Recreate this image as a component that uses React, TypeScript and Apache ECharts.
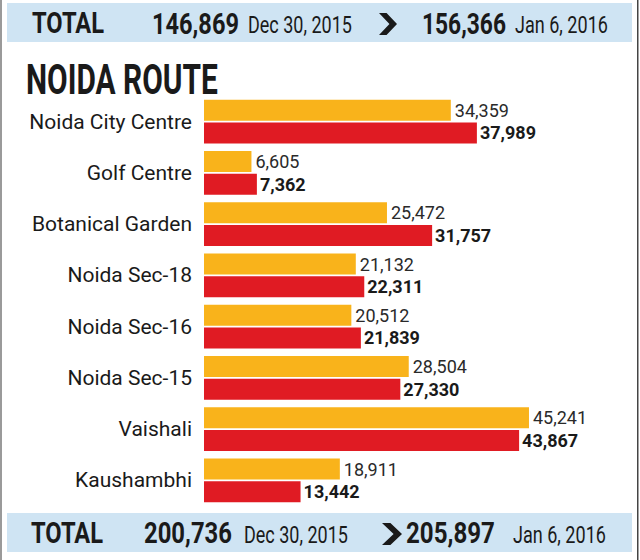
import React, { useEffect, useRef } from "react";
import * as echarts from "echarts";

// Daily ridership per station on the Noida route
const stations = [
  "Noida City Centre",
  "Golf Centre",
  "Botanical Garden",
  "Noida Sec-18",
  "Noida Sec-16",
  "Noida Sec-15",
  "Vaishali",
  "Kaushambhi",
];
const dec30 = [34359, 6605, 25472, 21132, 20512, 28504, 45241, 18911];
const jan6 = [37989, 7362, 31757, 22311, 21839, 27330, 43867, 13442];

// Totals shown in the header and footer bands
const dateLabels = ["Dec 30, 2015", "Jan 6, 2016"];
const headerTotals = [146869, 156366];
const footerTotals = [200736, 205897];

const FONT = "Roboto";
const YELLOW = "#F9B31B";
const RED = "#E01B23";
const BAND = "#CFE4F3";
const INK = "#1a1a1a";

const fmt = (v: number) => v.toLocaleString("en-US");

// Squeeze a headline text horizontally to a given width (condensed look)
const measureCtx = document.createElement("canvas").getContext("2d") as CanvasRenderingContext2D;
function fitText(text: string, weight: string, size: number, x: number, cy: number, width: number) {
  const font = `${weight} ${size}px ${FONT}`;
  measureCtx.font = font;
  const w = measureCtx.measureText(text).width || width;
  return {
    type: "text",
    x,
    y: cy,
    scaleX: width / w,
    style: { text, font, fill: INK, verticalAlign: "middle" },
  };
}

function chevron(x: number, y: number, w: number, h: number) {
  // bold ">" arrow between the two totals
  const t = w * 0.42;
  return {
    type: "polygon",
    shape: {
      points: [
        [x, y],
        [x + t, y],
        [x + w, y + h / 2],
        [x + t, y + h],
        [x, y + h],
        [x + w - t, y + h / 2],
      ],
    },
    style: { fill: INK },
  };
}

type BandLayout = {
  y: number;
  totalX: number;
  numX: number[];
  numW: number[];
  dateX: number[];
  dateW: number[];
  arrowX: number;
  arrowW: number;
};

function band(totals: number[], L: BandLayout) {
  const cy = L.y + 20.5;
  return [
    { type: "rect", shape: { x: 7, y: L.y, width: 625, height: 39 }, style: { fill: BAND } },
    fitText("TOTAL", "bold", 30, L.totalX, cy, 72),
    fitText(fmt(totals[0]), "bold", 30, L.numX[0], cy, L.numW[0]),
    fitText(dateLabels[0], "normal", 23, L.dateX[0], cy + 2, L.dateW[0]),
    chevron(L.arrowX, L.y + 10, L.arrowW, 22),
    fitText(fmt(totals[1]), "bold", 30, L.numX[1], cy, L.numW[1]),
    fitText(dateLabels[1], "normal", 23, L.dateX[1], cy + 2, L.dateW[1]),
  ];
}

export default function App() {
  const ref = useRef<HTMLDivElement>(null);

  useEffect(() => {
    if (!ref.current) return;
    const chart = echarts.init(ref.current, null, { renderer: "svg" });
    chart.setOption({
      animation: false,
      backgroundColor: "#ffffff",
      grid: { left: 204, top: 96, width: 431, height: 410, containLabel: false },
      xAxis: {
        type: "value",
        min: 0,
        max: 60000,
        show: false,
        splitLine: { show: false },
      },
      yAxis: {
        type: "category",
        data: stations,
        inverse: true,
        axisLine: { show: false },
        axisTick: { show: false },
        axisLabel: { color: INK, fontSize: 21, fontFamily: FONT, margin: 12 },
      },
      series: [
        {
          name: dateLabels[0],
          type: "bar",
          data: dec30,
          barWidth: 21,
          barGap: "8%",
          itemStyle: { color: YELLOW },
          label: {
            show: true,
            position: "right",
            distance: 4,
            formatter: (p: any) => fmt(p.value),
            color: "#2a2a2a",
            fontSize: 18,
            fontFamily: FONT,
          },
        },
        {
          name: dateLabels[1],
          type: "bar",
          data: jan6,
          barWidth: 21,
          itemStyle: { color: RED },
          label: {
            show: true,
            position: "right",
            distance: 3,
            formatter: (p: any) => fmt(p.value),
            color: INK,
            fontSize: 18,
            fontWeight: "bold",
            fontFamily: FONT,
          },
        },
      ],
      graphic: [
        { type: "rect", shape: { x: 0, y: 0, width: 2, height: 560 }, style: { fill: "#9a9a9a" } },
        { type: "rect", shape: { x: 637, y: 0, width: 1.5, height: 560 }, style: { fill: "#444" } },
        ...band(headerTotals, {
          y: 3,
          totalX: 32,
          numX: [152, 422],
          numW: [87, 84],
          dateX: [248, 515],
          dateW: [104, 93],
          arrowX: 379,
          arrowW: 18,
        }),
        ...band(footerTotals, {
          y: 513,
          totalX: 31,
          numX: [144, 406],
          numW: [88, 89],
          dateX: [244, 513],
          dateW: [104, 93],
          arrowX: 382,
          arrowW: 20,
        }),
        fitText("NOIDA ROUTE", "bold", 42, 26, 80, 192),
      ],
    });
    return () => chart.dispose();
  }, []);

  return (
    <div
      ref={ref}
      style={{ position: "absolute", left: 0, top: 0, width: 640, height: 560 }}
    />
  );
}
